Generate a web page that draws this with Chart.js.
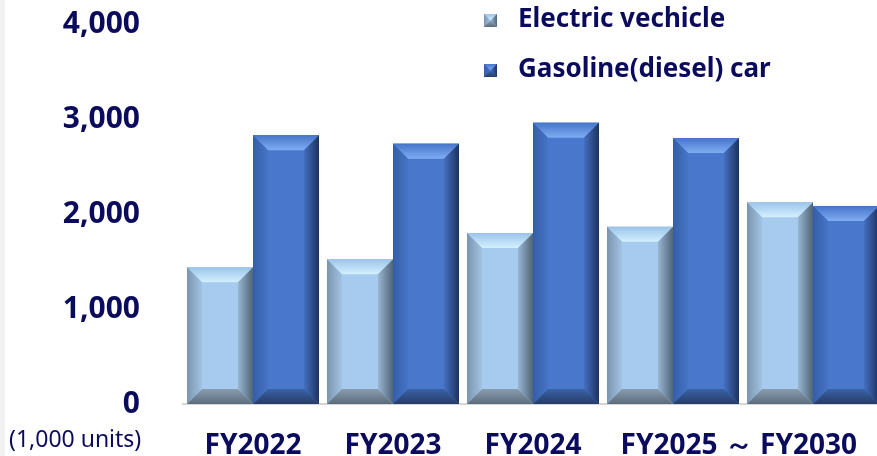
<!DOCTYPE html>
<html lang="en">
<head>
  <meta charset="UTF-8" />
  <title>EV vs Gasoline sales</title>
  <script src="https://cdn.jsdelivr.net/npm/chart.js"></script>
  <style>
    html, body {
      margin: 0;
      padding: 0;
      overflow: hidden;
      background: linear-gradient(to right, #f1f1f1 0, #f1f1f1 5px, #ffffff 5px);
    }
    #wrap {
      position: relative;
      width: 883px;
      height: 456px;
    }
  </style>
</head>
<body>
  <div id="wrap">
    <canvas id="salesChart" width="883" height="456"></canvas>
  </div>

  <script>
    // ── data ─────────────────────────────────────────
    const categories = ['FY2022', 'FY2023', 'FY2024', 'FY2025', 'FY2030'];
    // captions under each group (the last two columns share one caption)
    const groupLabels = ['FY2022', 'FY2023', 'FY2024', '', 'FY2025 ～ FY2030'];
    const evUnits = [1440, 1525, 1800, 1865, 2125];
    const gasUnits = [2830, 2740, 2960, 2800, 2085];
    const yTicks = [0, 1000, 2000, 3000, 4000];
    const seriesNames = ['Electric vechicle', 'Gasoline(diesel) car'];
    const unitLabel = '(1,000 units)';

    const NAVY = '#0b0b5e';
    const FONT = '"Noto Sans", "Open Sans", sans-serif';

    // bevel palettes: face, top(edge→inner), left(edge→inner), right(inner→edge), bottom(inner→edge)
    const bevel = {
      ev: {
        face: '#a6cbef',
        top: ['#9cc3e8', '#d2f0ff'],
        left: ['#7a94ad', '#a2c3e4'],
        right: ['#9ab6d2', '#4f6478'],
        bottom: ['#8a9db0', '#5b6b7b']
      },
      gas: {
        face: '#4877cc',
        top: ['#4675c8', '#80acf4'],
        left: ['#345ea6', '#4674c6'],
        right: ['#4470c0', '#1d3260'],
        bottom: ['#3a62a6', '#263c68']
      }
    };

    function fillPoly(ctx, pts, grad) {
      ctx.beginPath();
      ctx.moveTo(pts[0][0], pts[0][1]);
      for (let i = 1; i < pts.length; i++) ctx.lineTo(pts[i][0], pts[i][1]);
      ctx.closePath();
      ctx.fillStyle = grad;
      ctx.fill();
    }

    function lin(ctx, x0, y0, x1, y1, c) {
      const g = ctx.createLinearGradient(x0, y0, x1, y1);
      g.addColorStop(0, c[0]);
      g.addColorStop(1, c[1]);
      return g;
    }

    function drawBevel(ctx, L, R, T, B, pal, d) {
      d = Math.min(d, (R - L) / 2, (B - T) / 2);
      ctx.fillStyle = pal.face;
      ctx.fillRect(L, T, R - L, B - T);
      fillPoly(ctx, [[L, T], [R, T], [R - d, T + d], [L + d, T + d]], lin(ctx, 0, T, 0, T + d, pal.top));
      fillPoly(ctx, [[L, T], [L + d, T + d], [L + d, B - d], [L, B]], lin(ctx, L, 0, L + d, 0, pal.left));
      fillPoly(ctx, [[R, T], [R, B], [R - d, B - d], [R - d, T + d]], lin(ctx, R - d, 0, R, 0, pal.right));
      fillPoly(ctx, [[L, B], [R, B], [R - d, B - d], [L + d, B - d]], lin(ctx, 0, B - d, 0, B, pal.bottom));
    }

    // paints the beveled look over every bar element, using the library's geometry
    const bevelBars = {
      id: 'bevelBars',
      afterDatasetsDraw(chart) {
        const ctx = chart.ctx;
        ctx.save();
        chart.data.datasets.forEach((ds, di) => {
          const pal = di === 0 ? bevel.ev : bevel.gas;
          chart.getDatasetMeta(di).data.forEach(bar => {
            const L = bar.x - bar.width / 2;
            const R = bar.x + bar.width / 2;
            drawBevel(ctx, L, R, bar.y, bar.base, pal, 15);
          });
        });
        ctx.restore();
      }
    };

    // group captions, legend and unit note
    const decorations = {
      id: 'decorations',
      afterDraw(chart) {
        const ctx = chart.ctx;
        const xs = chart.scales.x;
        ctx.save();
        ctx.fillStyle = NAVY;
        ctx.font = `bold 28px ${FONT}`;
        ctx.textBaseline = 'alphabetic';
        ctx.textAlign = 'left';
        const limit = 857;
        groupLabels.forEach((lbl, i) => {
          if (!lbl) return;
          const w = ctx.measureText(lbl).width;
          let cx = xs.getPixelForTick(i);
          if (cx + w / 2 > limit) cx = limit - w / 2;
          ctx.fillText(lbl, cx - w / 2, 454);
        });

        // unit note under the zero tick
        ctx.font = `23px ${FONT}`;
        ctx.fillText(unitLabel, 9, 447);

        // legend
        const rows = [{ y: 20, pal: bevel.ev }, { y: 70, pal: bevel.gas }];
        rows.forEach((r, i) => {
          const s = 13;
          const x0 = 484, y0 = r.y - 6;
          drawBevel(ctx, x0, x0 + s, y0, y0 + s, r.pal, 6);
          ctx.fillStyle = NAVY;
          ctx.font = `bold 26px ${FONT}`;
          ctx.textBaseline = 'middle';
          ctx.fillText(seriesNames[i], 518, r.y);
        });
        ctx.restore();
      }
    };

    new Chart(document.getElementById('salesChart'), {
      type: 'bar',
      data: {
        labels: categories,
        datasets: [
          { label: seriesNames[0], data: evUnits, backgroundColor: bevel.ev.face },
          { label: seriesNames[1], data: gasUnits, backgroundColor: bevel.gas.face }
        ]
      },
      options: {
        responsive: false,
        animation: false,
        layout: { padding: { top: 24, right: 0, bottom: 0, left: 0 } },
        datasets: {
          bar: { barPercentage: 1.0, categoryPercentage: 0.943, borderWidth: 0 }
        },
        scales: {
          x: {
            grid: { display: false },
            border: { display: true, color: '#d6d6d6', width: 2 },
            ticks: { display: false },
            afterFit: s => { s.height = 52; }
          },
          y: {
            min: 0,
            max: 4000,
            grid: { display: false, drawTicks: false },
            border: { display: false },
            afterBuildTicks: s => { s.ticks = yTicks.map(v => ({ value: v })); },
            ticks: {
              padding: 43,
              color: NAVY,
              font: { family: FONT, size: 30, weight: 'bold' },
              callback: v => v.toLocaleString('en-US')
            },
            afterFit: s => {
              s.width = 183;
              s.paddingTop = 0;
              s.paddingBottom = 0;
            }
          }
        },
        plugins: {
          legend: { display: false },
          tooltip: { enabled: false }
        }
      },
      plugins: [bevelBars, decorations]
    });
  </script>
</body>
</html>
